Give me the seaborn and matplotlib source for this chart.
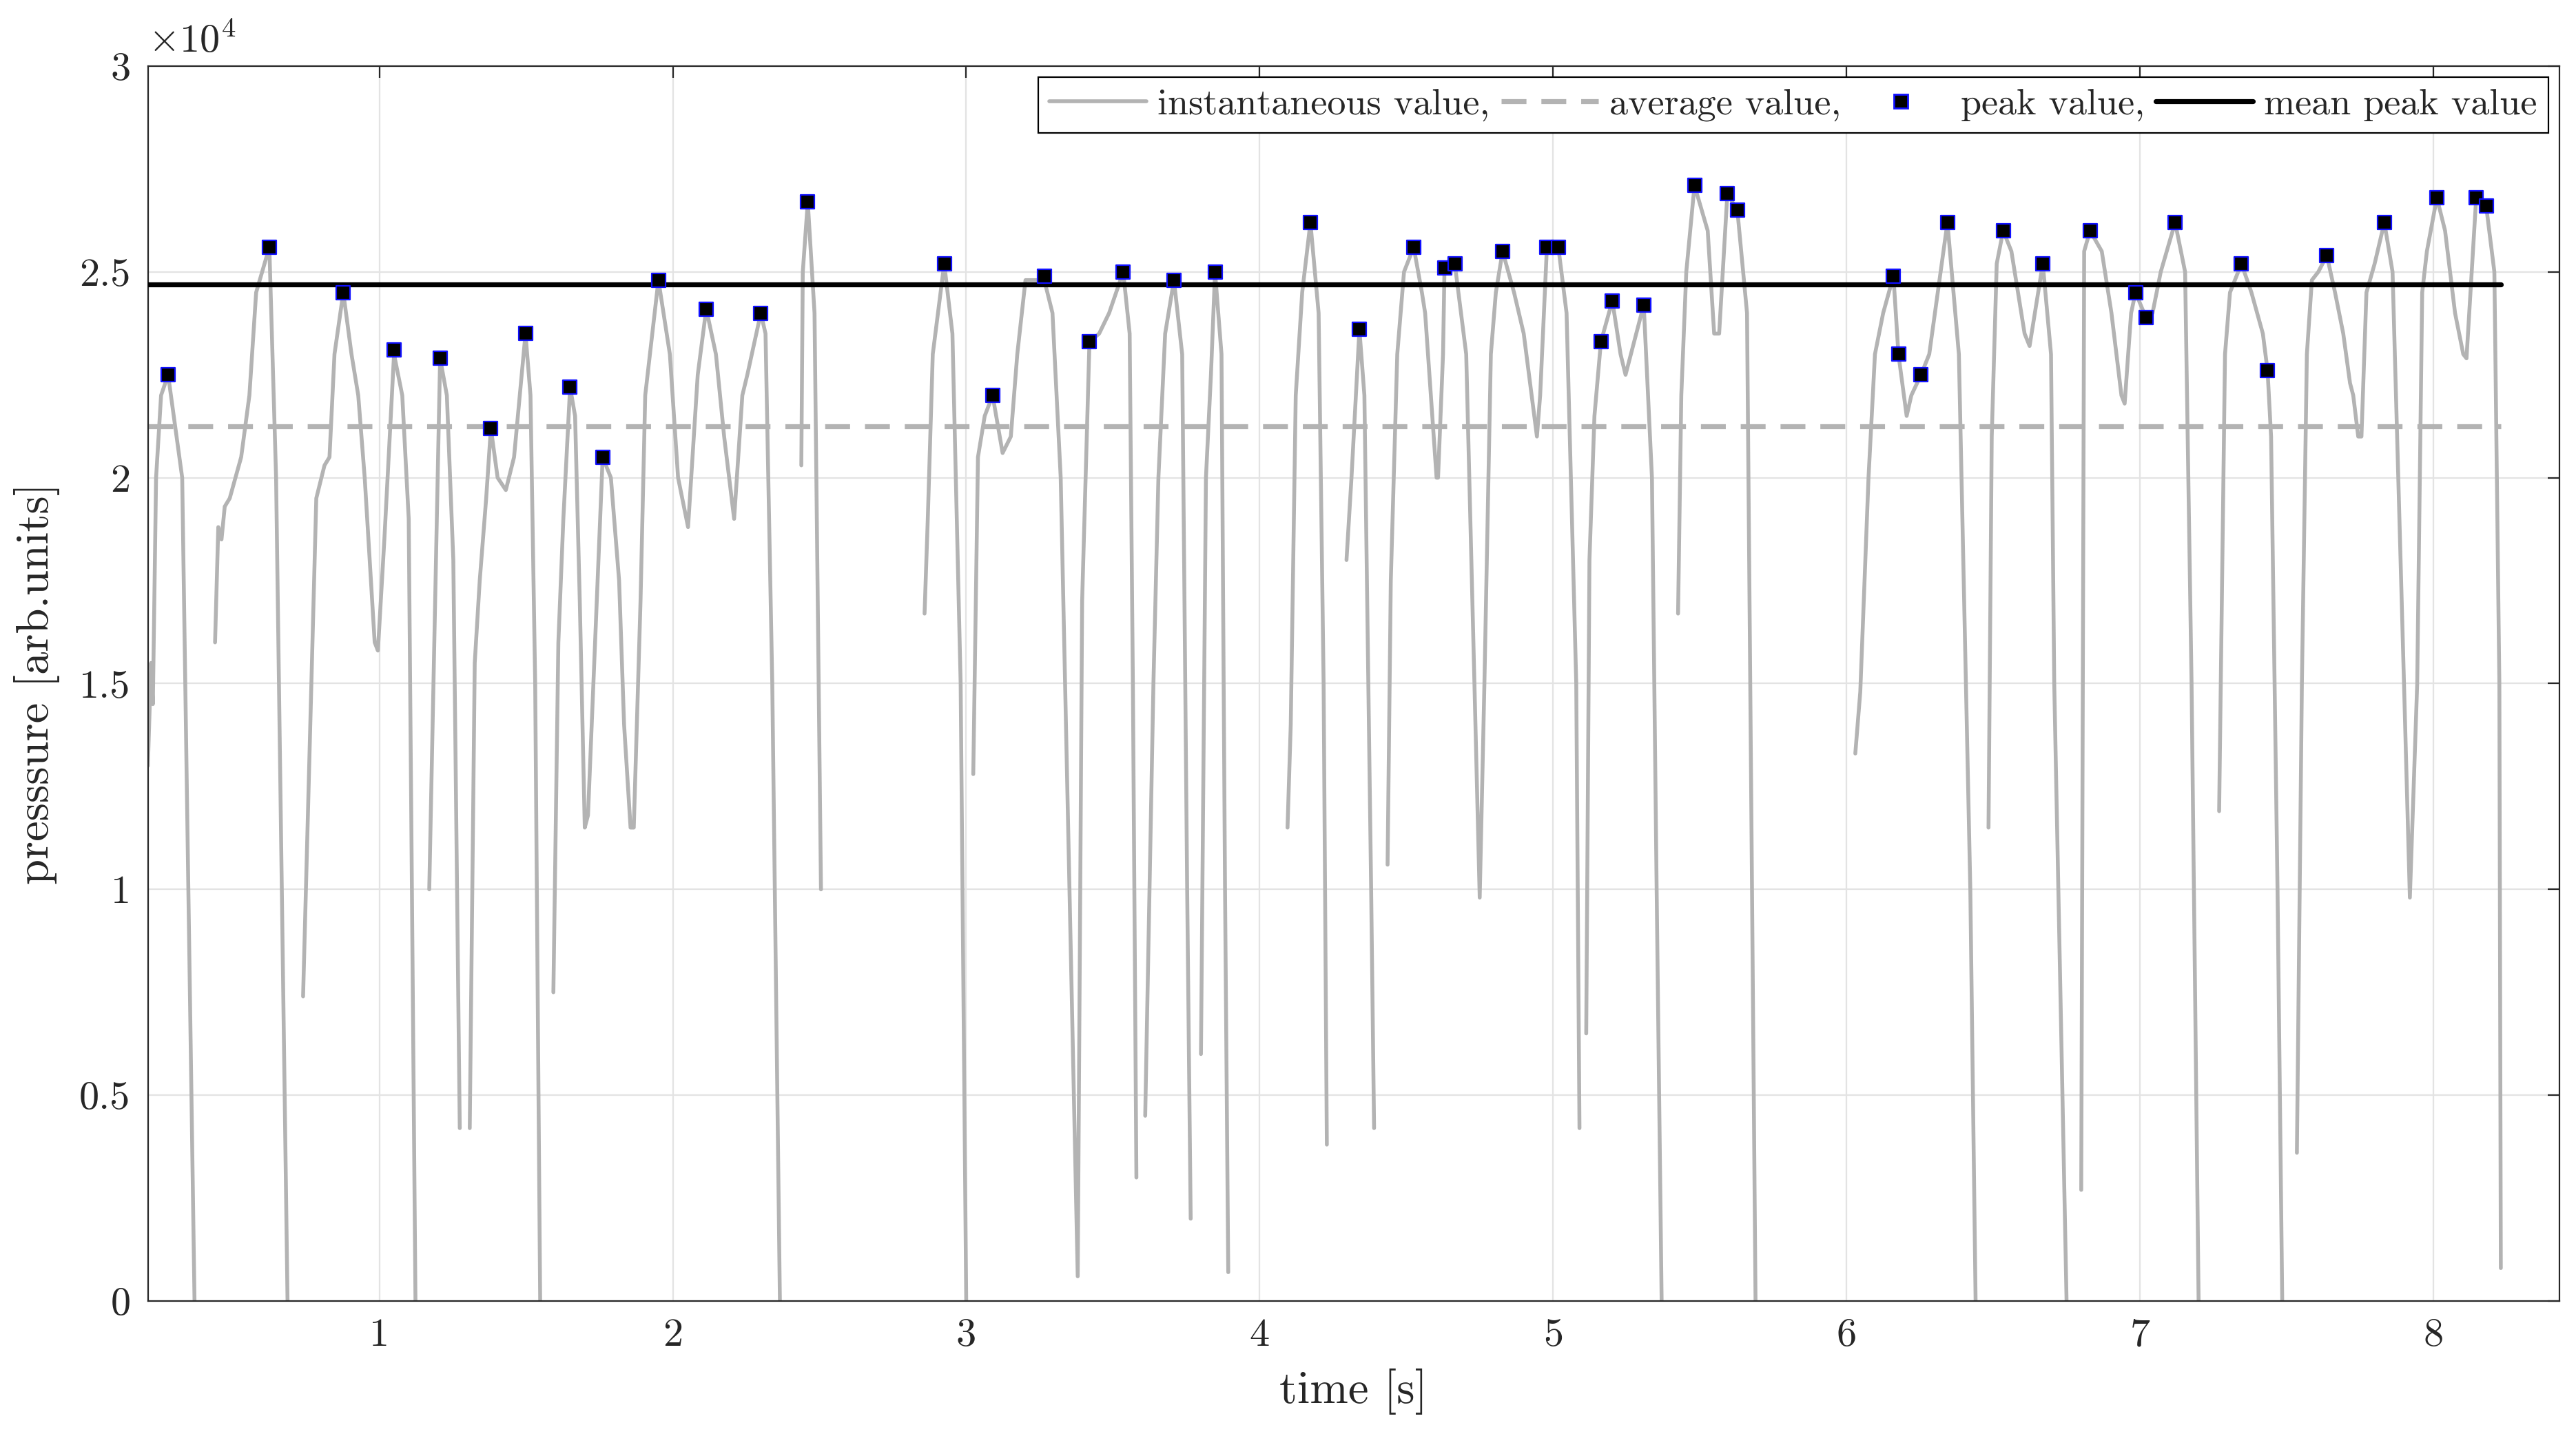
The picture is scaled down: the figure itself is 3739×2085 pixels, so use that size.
import matplotlib
matplotlib.use("Agg")
import matplotlib.pyplot as plt
from matplotlib.lines import Line2D
import seaborn as sns
import pandas as pd

# instantaneous pressure, one list pair per continuous segment (values in 1e4 arb.units)
seg_t = [
    [0.211, 0.222, 0.228, 0.239, 0.256, 0.28, 0.328, 0.37],
    [0.44, 0.451, 0.462, 0.473, 0.49, 0.529, 0.557, 0.58, 0.625, 0.648, 0.687],
    [0.74, 0.785, 0.813, 0.83, 0.847, 0.877, 0.905, 0.928, 0.95, 0.984, 0.995, 1.017, 1.05,
     1.078, 1.10, 1.123],
    [1.17, 1.207, 1.23, 1.252, 1.274],
    [1.308, 1.325, 1.342, 1.364, 1.38, 1.403, 1.431, 1.459, 1.498, 1.515, 1.531, 1.548],
    [1.593, 1.61, 1.627, 1.65, 1.667, 1.683, 1.70, 1.711, 1.761, 1.789, 1.817, 1.834, 1.856,
     1.867, 1.89, 1.906, 1.951, 1.99, 2.018, 2.052, 2.085, 2.114, 2.147, 2.175, 2.209, 2.237,
     2.254, 2.30, 2.316, 2.339, 2.365],
    [2.438, 2.443, 2.46, 2.483, 2.505],
    [2.858, 2.869, 2.886, 2.925, 2.953, 2.981, 3.0],
    [3.024, 3.04, 3.063, 3.09, 3.124, 3.152, 3.174, 3.202, 3.266, 3.294, 3.322, 3.38, 3.395,
     3.42, 3.453, 3.487, 3.535, 3.557, 3.568, 3.58],
    [3.61, 3.638, 3.655, 3.678, 3.708, 3.736, 3.753, 3.765],
    [3.80, 3.817, 3.834, 3.848, 3.87, 3.882, 3.893],
    [4.095, 4.106, 4.123, 4.145, 4.173, 4.201, 4.218, 4.229],
    [4.296, 4.313, 4.34, 4.357, 4.38, 4.39],
    [4.436, 4.447, 4.469, 4.492, 4.525, 4.553, 4.564, 4.603, 4.608, 4.625, 4.63, 4.665, 4.704,
     4.732, 4.75, 4.766, 4.788, 4.805, 4.828, 4.867, 4.90, 4.945, 4.956, 4.979, 5.018, 5.046,
     5.079, 5.09],
    [5.113, 5.124, 5.141, 5.163, 5.202, 5.23, 5.247, 5.309, 5.337, 5.353, 5.37],
    [5.426, 5.437, 5.454, 5.482, 5.527, 5.549, 5.566, 5.594, 5.628, 5.661, 5.672, 5.69],
    [6.03, 6.047, 6.075, 6.097, 6.125, 6.16, 6.177, 6.205, 6.221, 6.254, 6.282, 6.344, 6.383,
     6.422, 6.44],
    [6.484, 6.495, 6.512, 6.534, 6.562, 6.607, 6.624, 6.669, 6.697, 6.708, 6.75],
    [6.80, 6.81, 6.83, 6.87, 6.903, 6.937, 6.948, 6.97, 6.985, 7.02, 7.043, 7.071, 7.12, 7.154,
     7.176, 7.20],
    [7.27, 7.29, 7.307, 7.346, 7.38, 7.419, 7.435, 7.447, 7.469, 7.485],
    [7.535, 7.552, 7.569, 7.586, 7.608, 7.637, 7.665, 7.693, 7.716, 7.727, 7.744, 7.755, 7.772,
     7.80, 7.833, 7.861, 7.90, 7.92, 7.945, 7.962, 7.978, 8.012, 8.04, 8.074, 8.102, 8.113,
     8.146, 8.18, 8.208, 8.225, 8.23],
]
seg_p = [
    [1.30, 1.55, 1.45, 2.00, 2.20, 2.25, 2.00, 0.00],
    [1.60, 1.88, 1.85, 1.93, 1.95, 2.05, 2.20, 2.45, 2.56, 2.00, 0.00],
    [0.74, 1.95, 2.03, 2.05, 2.30, 2.45, 2.30, 2.20, 2.00, 1.60, 1.58, 1.85, 2.30,
     2.20, 1.90, 0.00],
    [1.00, 2.29, 2.20, 1.80, 0.42],
    [0.42, 1.55, 1.75, 1.95, 2.12, 2.00, 1.97, 2.05, 2.35, 2.20, 1.50, 0.00],
    [0.75, 1.60, 1.90, 2.22, 2.15, 1.70, 1.15, 1.18, 2.05, 2.00, 1.75, 1.40, 1.15,
     1.15, 1.70, 2.20, 2.48, 2.30, 2.00, 1.88, 2.25, 2.41, 2.30, 2.10, 1.90, 2.20,
     2.25, 2.40, 2.35, 1.50, 0.00],
    [2.03, 2.50, 2.67, 2.40, 1.00],
    [1.67, 1.90, 2.30, 2.52, 2.35, 1.50, 0.00],
    [1.28, 2.05, 2.15, 2.20, 2.06, 2.10, 2.30, 2.48, 2.48, 2.40, 2.00, 0.06, 1.70,
     2.33, 2.35, 2.40, 2.50, 2.35, 1.50, 0.30],
    [0.45, 1.50, 2.00, 2.35, 2.48, 2.30, 1.00, 0.20],
    [0.60, 2.00, 2.25, 2.50, 2.30, 1.00, 0.07],
    [1.15, 1.40, 2.20, 2.45, 2.62, 2.40, 1.50, 0.38],
    [1.80, 2.00, 2.36, 2.20, 1.00, 0.42],
    [1.06, 1.75, 2.30, 2.50, 2.56, 2.45, 2.40, 2.00, 2.00, 2.30, 2.51, 2.52, 2.30,
     1.50, 0.98, 1.50, 2.30, 2.45, 2.55, 2.45, 2.35, 2.10, 2.20, 2.56, 2.56, 2.40,
     1.50, 0.42],
    [0.65, 1.80, 2.15, 2.33, 2.43, 2.30, 2.25, 2.42, 2.00, 1.00, 0.00],
    [1.67, 2.20, 2.50, 2.71, 2.60, 2.35, 2.35, 2.69, 2.65, 2.40, 1.50, 0.00],
    [1.33, 1.48, 2.00, 2.30, 2.40, 2.49, 2.30, 2.15, 2.20, 2.25, 2.30, 2.62, 2.30,
     1.00, 0.00],
    [1.15, 2.10, 2.52, 2.60, 2.55, 2.35, 2.32, 2.52, 2.30, 1.50, 0.00],
    [0.27, 2.55, 2.60, 2.55, 2.40, 2.20, 2.18, 2.40, 2.45, 2.39, 2.40, 2.50, 2.62, 2.50,
     1.50, 0.00],
    [1.19, 2.30, 2.45, 2.52, 2.45, 2.35, 2.26, 2.10, 1.00, 0.00],
    [0.36, 1.50, 2.30, 2.48, 2.50, 2.54, 2.45, 2.35, 2.23, 2.20, 2.10, 2.10, 2.45,
     2.52, 2.62, 2.50, 1.50, 0.98, 1.50, 2.45, 2.55, 2.68, 2.60, 2.40, 2.30, 2.29,
     2.68, 2.66, 2.50, 1.50, 0.08],
]

peak_t = [0.28, 0.625, 0.877, 1.05, 1.207, 1.38, 1.498, 1.65, 1.761, 1.951, 2.114, 2.30,
          2.46, 2.925, 3.09, 3.266, 3.42, 3.535, 3.708, 3.848, 4.173, 4.34, 4.525, 4.63,
          4.665, 4.828, 4.979, 5.018, 5.163, 5.202, 5.309, 5.482, 5.594, 5.628, 6.16,
          6.177, 6.254, 6.344, 6.534, 6.669, 6.83, 6.985, 7.02, 7.12, 7.346, 7.435,
          7.637, 7.833, 8.012, 8.146, 8.18]
peak_p = [2.25, 2.56, 2.45, 2.31, 2.29, 2.12, 2.35, 2.22, 2.05, 2.48, 2.41, 2.40,
          2.67, 2.52, 2.20, 2.49, 2.33, 2.50, 2.48, 2.50, 2.62, 2.36, 2.56, 2.51,
          2.52, 2.55, 2.56, 2.56, 2.33, 2.43, 2.42, 2.71, 2.69, 2.65, 2.49,
          2.30, 2.25, 2.62, 2.60, 2.52, 2.60, 2.45, 2.39, 2.62, 2.52, 2.26,
          2.54, 2.62, 2.68, 2.68, 2.66]

average_value = 21250
mean_peak_value = 24700
t_start, t_end = 0.211, 8.23

rows = []
for k, (ts, ps) in enumerate(zip(seg_t, seg_p)):
    for t, p in zip(ts, ps):
        rows.append({"time": t, "pressure": p * 1e4, "seg": k})
df = pd.DataFrame(rows)
peaks = pd.DataFrame({"time": peak_t, "pressure": [p * 1e4 for p in peak_p]})
flat = pd.DataFrame({"time": [t_start, t_end]})

sns.set_style("white")
plt.rcParams["font.family"] = ["cmr10", "DejaVu Serif"]
plt.rcParams["mathtext.fontset"] = "cm"
plt.rcParams["axes.unicode_minus"] = False

gray = "#b3b3b3"
fig = plt.figure(figsize=(18.695, 10.425), dpi=200)
ax = fig.add_axes([0.0574, 0.094, 0.9362, 0.86])

sns.lineplot(data=df, x="time", y="pressure", units="seg", estimator=None, sort=False,
             color=gray, lw=2.0, ax=ax, legend=False)
ax.plot(flat["time"], [average_value] * 2, color=gray, lw=2.6, ls=(0, (5, 3)))
sns.scatterplot(data=peaks, x="time", y="pressure", marker="s", s=52, color="black",
                edgecolor="#1010ff", linewidth=0.8, ax=ax, zorder=5, legend=False)
ax.plot(flat["time"], [mean_peak_value] * 2, color="black", lw=2.6, zorder=4)

ax.set_xlim(0.211, 8.43)
ax.set_ylim(0, 30000)
ax.set_xticks(range(1, 9))
ax.set_xticklabels([str(i) for i in range(1, 9)])
yt = [0, 5000, 10000, 15000, 20000, 25000, 30000]
ax.set_yticks(yt)
ax.set_yticklabels(["0", "0.5", "1", "1.5", "2", "2.5", "3"])
ax.grid(True, color="#e3e3e3", lw=0.8)
ax.tick_params(labelsize=21, direction="in", length=6, top=True, right=True, pad=9)
for s in ax.spines.values():
    s.set_color("#262626")
    s.set_linewidth(0.8)
ax.set_xlabel("time [s]", fontsize=24, labelpad=8)
ax.set_ylabel("presssure [arb.units]", fontsize=24, labelpad=10)
ax.text(0.0, 1.005, r"$\times10^4$", transform=ax.transAxes, fontsize=21, va="bottom")

handles = [
    Line2D([], [], color=gray, lw=2.0),
    Line2D([], [], color=gray, lw=2.6, ls=(0, (5, 3))),
    Line2D([], [], ls="", marker="s", markersize=7, markerfacecolor="black",
           markeredgecolor="#1010ff"),
    Line2D([], [], color="black", lw=2.6),
]
labels = ["instantaneous value,", "average value,", "peak value,", "mean peak value"]
leg = ax.legend(handles, labels, loc="upper right", ncol=4, fontsize=19.5, frameon=True,
                fancybox=False, framealpha=1, edgecolor="black", handlelength=2.6,
                columnspacing=0.3, handletextpad=0.3, borderpad=0.3, borderaxespad=0.3)
leg.get_frame().set_linewidth(0.8)

fig.savefig("out.png", dpi=200)
